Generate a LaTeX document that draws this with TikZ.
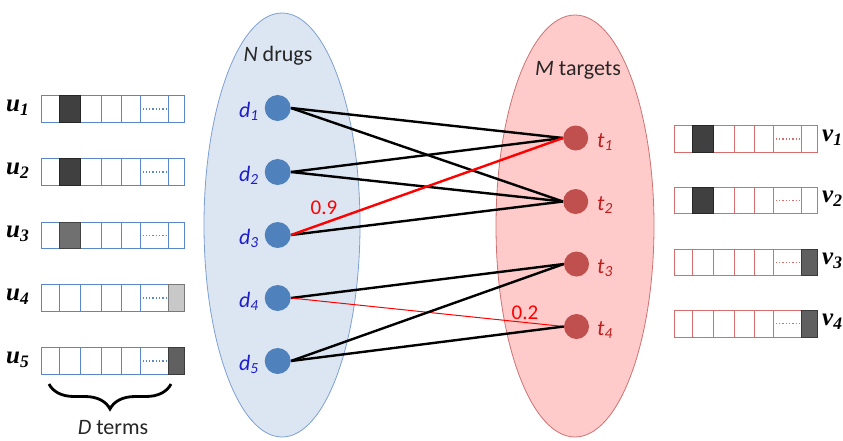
\documentclass[tikz,border=0pt]{standalone}
\usepackage{fontspec}
\setmainfont{Carlito}
\newfontfamily\vecfont{Liberation Serif}
\usetikzlibrary{shapes.geometric,decorations.pathreplacing}

\definecolor{drugset}{RGB}{220,230,242}
\definecolor{drugedge}{RGB}{125,160,210}
\definecolor{targetset}{RGB}{255,202,202}
\definecolor{targetedge}{RGB}{205,115,115}
\definecolor{drugdot}{RGB}{79,129,189}
\definecolor{targetdot}{RGB}{192,80,77}
\definecolor{druglabel}{RGB}{30,30,200}
\definecolor{targetlabel}{RGB}{192,30,30}
\definecolor{ublue}{RGB}{90,135,200}
\definecolor{vred}{RGB}{215,110,110}
\definecolor{shadeA}{RGB}{64,64,64}
\definecolor{shadeB}{RGB}{112,112,112}
\definecolor{shadeC}{RGB}{200,200,200}
\definecolor{shadeD}{RGB}{96,96,96}

\pgfdeclarelayer{paper}
\pgfdeclarelayer{sets}
\pgfdeclarelayer{links}
\pgfsetlayers{paper,sets,links,main}

% a feature vector: #1 left edge, #2 centre line, #3 outline colour,
% #4 number of the shaded cell, #5 its shade
\newcommand\featvec[5]{%
  \foreach \a/\b in {0/18.4,18.4/39.3,39.3/60,60/80.2,80.2/99,99/127.6,127.6/143}{
    \draw[#3, line width=1pt, fill=white] (#1+\a,#2-13.3) rectangle (#1+\b,#2+13.3);
  }
  \foreach \a/\b [count=\i] in {0/18.4,18.4/39.3,39.3/60,60/80.2,80.2/99,99/127.6,127.6/143}{
    \ifnum\i=#4\relax
      \draw[fill=#5, draw=#5!60!black, line width=1pt] (#1+\a,#2-13.3) rectangle (#1+\b,#2+13.3);
    \fi
  }
  \draw[#3, dotted, line width=1.3pt] (#1+101.5,#2) -- (#1+125.5,#2);
}

\tikzset{
  setlabel/.style={font=\fontsize{22}{22}\selectfont, text=black!85, inner sep=0pt},
  drug/.style={circle, fill=drugdot, minimum size=26pt, inner sep=0pt},
  target/.style={circle, fill=targetdot, minimum size=25pt, inner sep=0pt},
  dlab/.style={font=\fontsize{22}{22}\selectfont\itshape, text=druglabel, anchor=east, inner sep=0pt},
  tlab/.style={font=\fontsize{22}{22}\selectfont\itshape, text=targetlabel, anchor=west, inner sep=0pt},
  veclab/.style={font=\vecfont\fontsize{25}{25}\selectfont\bfseries\itshape, inner sep=0pt},
  link/.style={line width=2.4pt, black},
  strong/.style={line width=2.4pt, red},
  weak/.style={line width=1pt, red},
  weight/.style={font=\fontsize{21}{21}\selectfont, text=red, inner sep=0pt},
}

\begin{document}
\begin{tikzpicture}[x=1pt,y=-1pt]
\begin{pgfonlayer}{paper}
\fill[white] (0,0) rectangle (843,440);
\end{pgfonlayer}
\useasboundingbox (0,0) rectangle (843,440);

% the two sets
\begin{pgfonlayer}{sets}
\node[ellipse, draw=drugedge, fill=drugset, line width=0.8pt, minimum width=156pt, minimum height=424pt, inner sep=0pt] (drugs) at (282,225) {};
\node[ellipse, draw=targetedge, fill=targetset, line width=0.8pt, minimum width=158pt, minimum height=422pt, inner sep=0pt] (targets) at (575,226) {};
\end{pgfonlayer}
\node[setlabel] (ndrugs) at (278,56) {\textit{N} drugs};
\node[setlabel] (mtargets) at (578,70) {\textit{M} targets};

% drug and target nodes
\node[drug] (d1) at (277.7,108) {};
\node[drug] (d2) at (277.7,172) {};
\node[drug] (d3) at (277.7,235) {};
\node[drug] (d4) at (277.7,298) {};
\node[drug] (d5) at (277.7,361) {};
\node[target] (t1) at (575.7,138) {};
\node[target] (t2) at (575.7,201.5) {};
\node[target] (t3) at (576.5,264) {};
\node[target] (t4) at (576.5,326.5) {};

\node[dlab] (ld1) at (259,111) {d\textsubscript{1}};
\node[dlab] (ld2) at (259,175) {d\textsubscript{2}};
\node[dlab] (ld3) at (259,238) {d\textsubscript{3}};
\node[dlab] (ld4) at (259,301) {d\textsubscript{4}};
\node[dlab] (ld5) at (259,364) {d\textsubscript{5}};
\node[tlab] (lt1) at (597,142) {t\textsubscript{1}};
\node[tlab] (lt2) at (597,205) {t\textsubscript{2}};
\node[tlab] (lt3) at (597,268) {t\textsubscript{3}};
\node[tlab] (lt4) at (597,330) {t\textsubscript{4}};

% interactions, drawn beneath the nodes
\begin{pgfonlayer}{links}
\draw[link] (d1.east) -- (t1.west);
\draw[link] (d1.east) -- (t2.west);
\draw[link] (d2.east) -- (t1.west);
\draw[link] (d2.east) -- (t2.west);
\draw[link] (d3.east) -- (t2.west);
\draw[strong] (d3.east) -- (t1.west);
\draw[link] (d4.east) -- (t3.west);
\draw[weak] (d4.east) -- (t4.west);
\draw[link] (d5.east) -- (t3.west);
\draw[link] (d5.east) -- (t4.west);
\end{pgfonlayer}

\node[weight] (w09) at (324,208) {0.9};
\node[weight] (w02) at (525,313) {0.2};

% drug feature vectors
\featvec{41}{109}{ublue}{2}{shadeA}
\featvec{41}{172}{ublue}{2}{shadeA}
\featvec{41}{235.3}{ublue}{2}{shadeB}
\featvec{41}{298}{ublue}{7}{shadeC}
\featvec{41}{361}{ublue}{7}{shadeD}
\node[veclab, anchor=west] (u1) at (6,108) {u\textsubscript{1}};
\node[veclab, anchor=west] (u2) at (6,171) {u\textsubscript{2}};
\node[veclab, anchor=west] (u3) at (6,234) {u\textsubscript{3}};
\node[veclab, anchor=west] (u4) at (6,297) {u\textsubscript{4}};
\node[veclab, anchor=west] (u5) at (6,360) {u\textsubscript{5}};

% target feature vectors
\featvec{674.3}{139}{vred}{2}{shadeA}
\featvec{674.3}{200.3}{vred}{2}{shadeA}
\featvec{674.3}{262.3}{vred}{7}{shadeD}
\featvec{674.3}{323.7}{vred}{7}{shadeD}
\node[veclab, anchor=west] (v1) at (822,138) {v\textsubscript{1}};
\node[veclab, anchor=west] (v2) at (822,199) {v\textsubscript{2}};
\node[veclab, anchor=west] (v3) at (822,261) {v\textsubscript{3}};
\node[veclab, anchor=west] (v4) at (822,322) {v\textsubscript{4}};

% vector length
\coordinate (bl) at (49,384);
\coordinate (br) at (171,384);
\draw[decorate, decoration={brace, amplitude=25pt, aspect=0.5}, line width=2.8pt] (br) -- (bl);
\node[setlabel] (dterms) at (113,428) {\textit{D} terms};
\end{tikzpicture}
\end{document}
